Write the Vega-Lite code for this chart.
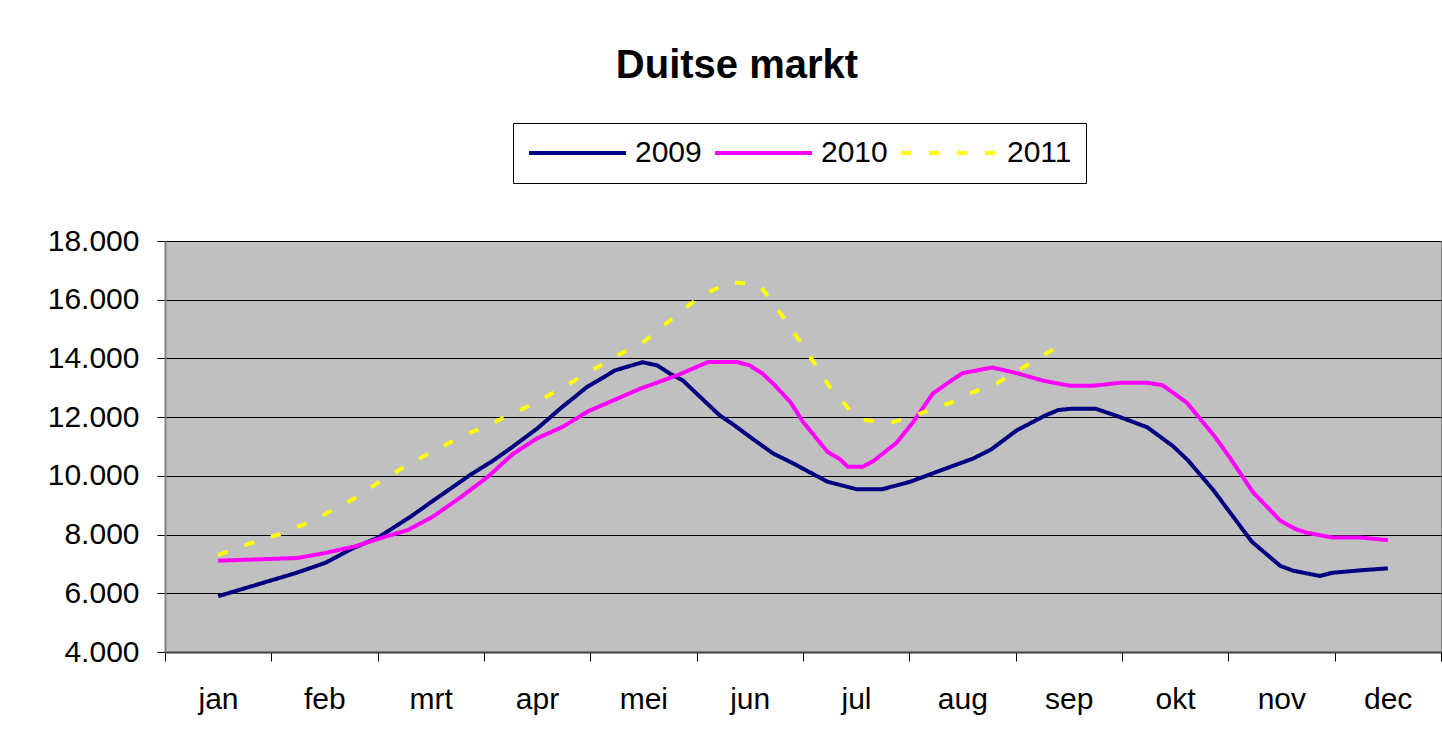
{
  "$schema": "https://vega.github.io/schema/vega-lite/v6.json",
  "autosize": {"type": "none"},
  "width": 1276,
  "height": 411,
  "padding": {"left": 165, "top": 241, "right": 1, "bottom": 98},
  "background": "#FFFFFF",
  "title": {"text": "Duitse markt", "font": "Liberation Sans", "fontSize": 40, "fontWeight": "bold", "color": "#000000", "anchor": "middle", "dx": -66, "offset": 37},
  "data": {"values": [
    {"jaar": "2009", "m": 1.00, "v": 5900}, {"jaar": "2009", "m": 1.74, "v": 6700}, {"jaar": "2009", "m": 2.01, "v": 7040}, {"jaar": "2009", "m": 2.27, "v": 7540}, {"jaar": "2009", "m": 2.50, "v": 7890}, {"jaar": "2009", "m": 2.81, "v": 8610}, {"jaar": "2009", "m": 3.02, "v": 9150}, {"jaar": "2009", "m": 3.37, "v": 10030}, {"jaar": "2009", "m": 3.59, "v": 10530}, {"jaar": "2009", "m": 3.75, "v": 10940}, {"jaar": "2009", "m": 4.00, "v": 11610}, {"jaar": "2009", "m": 4.22, "v": 12300}, {"jaar": "2009", "m": 4.47, "v": 13030}, {"jaar": "2009", "m": 4.59, "v": 13280}, {"jaar": "2009", "m": 4.73, "v": 13590}, {"jaar": "2009", "m": 4.99, "v": 13870}, {"jaar": "2009", "m": 5.13, "v": 13760}, {"jaar": "2009", "m": 5.25, "v": 13480}, {"jaar": "2009", "m": 5.37, "v": 13250}, {"jaar": "2009", "m": 5.50, "v": 12800}, {"jaar": "2009", "m": 5.72, "v": 12050}, {"jaar": "2009", "m": 5.84, "v": 11760}, {"jaar": "2009", "m": 6.00, "v": 11330}, {"jaar": "2009", "m": 6.22, "v": 10760}, {"jaar": "2009", "m": 6.41, "v": 10420}, {"jaar": "2009", "m": 6.73, "v": 9800}, {"jaar": "2009", "m": 7.01, "v": 9540}, {"jaar": "2009", "m": 7.24, "v": 9540}, {"jaar": "2009", "m": 7.51, "v": 9800}, {"jaar": "2009", "m": 7.76, "v": 10140}, {"jaar": "2009", "m": 8.10, "v": 10590}, {"jaar": "2009", "m": 8.27, "v": 10900}, {"jaar": "2009", "m": 8.51, "v": 11550}, {"jaar": "2009", "m": 8.78, "v": 12060}, {"jaar": "2009", "m": 8.90, "v": 12240}, {"jaar": "2009", "m": 9.03, "v": 12290}, {"jaar": "2009", "m": 9.25, "v": 12290}, {"jaar": "2009", "m": 9.46, "v": 12030}, {"jaar": "2009", "m": 9.74, "v": 11650}, {"jaar": "2009", "m": 9.98, "v": 11010}, {"jaar": "2009", "m": 10.12, "v": 10530}, {"jaar": "2009", "m": 10.36, "v": 9510}, {"jaar": "2009", "m": 10.72, "v": 7760}, {"jaar": "2009", "m": 10.99, "v": 6930}, {"jaar": "2009", "m": 11.11, "v": 6770}, {"jaar": "2009", "m": 11.36, "v": 6590}, {"jaar": "2009", "m": 11.48, "v": 6700}, {"jaar": "2009", "m": 11.77, "v": 6790}, {"jaar": "2009", "m": 12.00, "v": 6850},
    {"jaar": "2010", "m": 1.00, "v": 7110}, {"jaar": "2010", "m": 1.74, "v": 7200}, {"jaar": "2010", "m": 1.99, "v": 7360}, {"jaar": "2010", "m": 2.29, "v": 7600}, {"jaar": "2010", "m": 2.52, "v": 7870}, {"jaar": "2010", "m": 2.78, "v": 8150}, {"jaar": "2010", "m": 3.02, "v": 8610}, {"jaar": "2010", "m": 3.28, "v": 9270}, {"jaar": "2010", "m": 3.54, "v": 9980}, {"jaar": "2010", "m": 3.77, "v": 10740}, {"jaar": "2010", "m": 4.00, "v": 11280}, {"jaar": "2010", "m": 4.24, "v": 11670}, {"jaar": "2010", "m": 4.48, "v": 12200}, {"jaar": "2010", "m": 4.97, "v": 12970}, {"jaar": "2010", "m": 5.32, "v": 13430}, {"jaar": "2010", "m": 5.61, "v": 13880}, {"jaar": "2010", "m": 5.88, "v": 13880}, {"jaar": "2010", "m": 6.00, "v": 13760}, {"jaar": "2010", "m": 6.12, "v": 13480}, {"jaar": "2010", "m": 6.22, "v": 13140}, {"jaar": "2010", "m": 6.38, "v": 12520}, {"jaar": "2010", "m": 6.50, "v": 11840}, {"jaar": "2010", "m": 6.73, "v": 10820}, {"jaar": "2010", "m": 6.85, "v": 10560}, {"jaar": "2010", "m": 6.92, "v": 10310}, {"jaar": "2010", "m": 7.06, "v": 10310}, {"jaar": "2010", "m": 7.16, "v": 10500}, {"jaar": "2010", "m": 7.38, "v": 11130}, {"jaar": "2010", "m": 7.53, "v": 11800}, {"jaar": "2010", "m": 7.72, "v": 12800}, {"jaar": "2010", "m": 7.88, "v": 13210}, {"jaar": "2010", "m": 8.00, "v": 13500}, {"jaar": "2010", "m": 8.28, "v": 13690}, {"jaar": "2010", "m": 8.51, "v": 13500}, {"jaar": "2010", "m": 8.76, "v": 13240}, {"jaar": "2010", "m": 9.01, "v": 13070}, {"jaar": "2010", "m": 9.23, "v": 13070}, {"jaar": "2010", "m": 9.48, "v": 13170}, {"jaar": "2010", "m": 9.74, "v": 13170}, {"jaar": "2010", "m": 9.88, "v": 13090}, {"jaar": "2010", "m": 9.97, "v": 12860}, {"jaar": "2010", "m": 10.11, "v": 12490}, {"jaar": "2010", "m": 10.37, "v": 11350}, {"jaar": "2010", "m": 10.52, "v": 10590}, {"jaar": "2010", "m": 10.73, "v": 9450}, {"jaar": "2010", "m": 10.99, "v": 8470}, {"jaar": "2010", "m": 11.13, "v": 8190}, {"jaar": "2010", "m": 11.24, "v": 8060}, {"jaar": "2010", "m": 11.48, "v": 7900}, {"jaar": "2010", "m": 11.74, "v": 7900}, {"jaar": "2010", "m": 12.00, "v": 7810},
    {"jaar": "2011", "m": 1.00, "v": 7300}, {"jaar": "2011", "m": 1.32, "v": 7720}, {"jaar": "2011", "m": 1.60, "v": 8040}, {"jaar": "2011", "m": 1.87, "v": 8440}, {"jaar": "2011", "m": 2.03, "v": 8740}, {"jaar": "2011", "m": 2.31, "v": 9290}, {"jaar": "2011", "m": 2.55, "v": 9880}, {"jaar": "2011", "m": 2.81, "v": 10420}, {"jaar": "2011", "m": 3.04, "v": 10880}, {"jaar": "2011", "m": 3.30, "v": 11350}, {"jaar": "2011", "m": 3.58, "v": 11800}, {"jaar": "2011", "m": 3.84, "v": 12240}, {"jaar": "2011", "m": 4.03, "v": 12580}, {"jaar": "2011", "m": 4.27, "v": 13070}, {"jaar": "2011", "m": 4.53, "v": 13620}, {"jaar": "2011", "m": 4.78, "v": 14150}, {"jaar": "2011", "m": 5.02, "v": 14610}, {"jaar": "2011", "m": 5.25, "v": 15300}, {"jaar": "2011", "m": 5.50, "v": 16020}, {"jaar": "2011", "m": 5.79, "v": 16590}, {"jaar": "2011", "m": 6.05, "v": 16540}, {"jaar": "2011", "m": 6.10, "v": 16450}, {"jaar": "2011", "m": 6.26, "v": 15680}, {"jaar": "2011", "m": 6.43, "v": 14800}, {"jaar": "2011", "m": 6.60, "v": 13880}, {"jaar": "2011", "m": 6.75, "v": 13030}, {"jaar": "2011", "m": 6.97, "v": 12120}, {"jaar": "2011", "m": 7.06, "v": 11910}, {"jaar": "2011", "m": 7.32, "v": 11800}, {"jaar": "2011", "m": 7.60, "v": 12120}, {"jaar": "2011", "m": 7.91, "v": 12520}, {"jaar": "2011", "m": 8.05, "v": 12780}, {"jaar": "2011", "m": 8.32, "v": 13150}, {"jaar": "2011", "m": 8.57, "v": 13690}, {"jaar": "2011", "m": 8.84, "v": 14280}, {"jaar": "2011", "m": 9.00, "v": 14500}
  ]},
  "mark": {"type": "line", "strokeWidth": 4, "strokeJoin": "round"},
  "encoding": {
    "x": {
      "field": "m", "type": "quantitative",
      "scale": {"domain": [0.5, 12.5], "nice": false, "zero": false},
      "axis": {
        "values": [0.5, 1.5, 2.5, 3.5, 4.5, 5.5, 6.5, 7.5, 8.5, 9.5, 10.5, 11.5, 12.5],
        "title": null, "grid": false,
        "domainColor": "#404040", "domainWidth": 2,
        "tickColor": "#000000", "tickSize": 9, "tickWidth": 1,
        "labelExpr": "datum.value < 12 ? ['jan','feb','mrt','apr','mei','jun','jul','aug','sep','okt','nov','dec'][floor(datum.value)] : ''",
        "labelOffset": 53, "labelFont": "Liberation Sans", "labelFontSize": 30, "labelColor": "#000000",
        "labelPadding": 23, "labelOverlap": false, "labelFlush": false, "labelBound": false
      }
    },
    "y": {
      "field": "v", "type": "quantitative",
      "scale": {"domain": [4000, 18000], "nice": false, "zero": false},
      "axis": {
        "values": [4000, 6000, 8000, 10000, 12000, 14000, 16000, 18000],
        "title": null, "grid": true, "gridColor": "#000000", "gridWidth": 1,
        "domainColor": "#808080", "domainWidth": 2,
        "tickColor": "#000000", "tickSize": 8, "tickWidth": 1,
        "labelExpr": "replace(format(datum.value, ','), ',', '.')",
        "labelFont": "Liberation Sans", "labelFontSize": 30, "labelColor": "#000000", "labelPadding": 18
      }
    },
    "color": {
      "field": "jaar", "type": "nominal",
      "scale": {"domain": ["2009", "2010", "2011"], "range": ["#000080", "#FF00FF", "#FFFF00"]},
      "legend": {"title": null, "orient": "none", "legendX": 348, "legendY": -118, "direction": "horizontal"}
    },
    "strokeDash": {
      "field": "jaar", "type": "nominal",
      "scale": {"domain": ["2009", "2010", "2011"], "range": [[1, 0], [1, 0], [10, 18]]},
      "legend": {"title": null, "orient": "none", "legendX": 348, "legendY": -118, "direction": "horizontal"}
    }
  },
  "config": {
    "view": {"fill": "#C0C0C0", "stroke": "#808080", "strokeWidth": 1},
    "legend": {
      "symbolType": "stroke", "symbolSize": 9409, "symbolStrokeWidth": 4, "clipHeight": 32,
      "labelFont": "Liberation Sans", "labelFontSize": 30, "labelColor": "#000000", "labelOffset": 7,
      "columnPadding": 11, "padding": 14, "strokeColor": "#000000", "fillColor": "#FFFFFF", "cornerRadius": 0
    }
  }
}
